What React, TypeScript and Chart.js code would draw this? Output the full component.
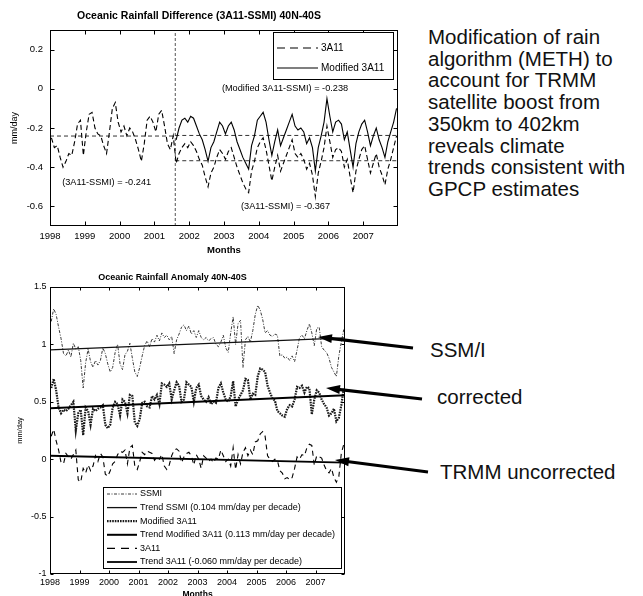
import React, { useEffect, useRef } from "react";
import { Chart, registerables } from "chart.js";

Chart.register(...registerables);

const FONT = "'Liberation Sans', Arial, Helvetica, sans-serif";
Chart.defaults.font.family = FONT;
Chart.defaults.color = "#000";

// ---------- shared axis data ----------
const START_YEAR = 1998;
const END_YEAR = 2008;
const BOOST_YEAR = 2001.6;
const YEAR_TICKS = [1998, 1999, 2000, 2001, 2002, 2003, 2004, 2005, 2006, 2007];

// ---------- top chart: Oceanic Rainfall Difference (3A11-SSMI) ----------
const DIFF_Y_TICKS = [-0.6, -0.4, -0.2, 0, 0.2];
const DIFF_Y_RANGE = [-0.7, 0.3];

const diff3A11 = [
  -0.25, -0.30, -0.29, -0.35, -0.40, -0.37, -0.33, -0.34, -0.27, -0.18, -0.16, -0.34,
  -0.22, -0.13, -0.12, -0.20, -0.23, -0.24, -0.29, -0.33, -0.22, -0.10, -0.07, -0.17,
  -0.22, -0.19, -0.24, -0.20, -0.22, -0.26, -0.31, -0.37, -0.28, -0.16, -0.14, -0.17,
  -0.22, -0.13, -0.11, -0.19, -0.28, -0.31, -0.24, -0.38, -0.33, -0.30, -0.28, -0.30,
  -0.27, -0.29, -0.32, -0.36, -0.39, -0.45, -0.50, -0.43, -0.40, -0.35, -0.31, -0.33,
  -0.36, -0.32, -0.30, -0.35, -0.40, -0.44, -0.48, -0.51, -0.53, -0.42, -0.37, -0.30,
  -0.27, -0.25, -0.31, -0.39, -0.47, -0.40, -0.34, -0.42, -0.38, -0.34, -0.30, -0.26,
  -0.33, -0.35, -0.33, -0.36, -0.41, -0.38, -0.44, -0.55, -0.43, -0.37, -0.30, -0.19,
  -0.27, -0.35, -0.31, -0.30, -0.32, -0.40, -0.36, -0.45, -0.53, -0.42, -0.36, -0.31,
  -0.29, -0.36, -0.43, -0.38, -0.33, -0.40, -0.44, -0.49, -0.41, -0.36, -0.30, -0.24,
];

const MODIFIED_START_MONTH = 43; // Aug 2001
const diffModified = [
  -0.26, -0.20, -0.16, -0.15, -0.17,
  -0.14, -0.15, -0.19, -0.23, -0.26, -0.31, -0.37, -0.30, -0.27, -0.22, -0.17, -0.19,
  -0.23, -0.19, -0.17, -0.21, -0.27, -0.31, -0.35, -0.38, -0.41, -0.29, -0.24, -0.16,
  -0.14, -0.12, -0.17, -0.26, -0.34, -0.27, -0.21, -0.29, -0.25, -0.21, -0.17, -0.13,
  -0.19, -0.21, -0.20, -0.22, -0.28, -0.25, -0.30, -0.42, -0.30, -0.24, -0.17, -0.05,
  -0.14, -0.22, -0.17, -0.16, -0.18, -0.26, -0.22, -0.31, -0.40, -0.28, -0.22, -0.18,
  -0.16, -0.22, -0.29, -0.24, -0.20, -0.26, -0.30, -0.35, -0.27, -0.22, -0.17, -0.10,
];

const meanBefore3A11 = -0.241;
const meanAfterModified = -0.238;
const meanAfter3A11 = -0.367;

// ---------- bottom chart: Oceanic Rainfall Anomaly ----------
const ANOM_Y_TICKS = [-1, -0.5, 0, 0.5, 1, 1.5];
const ANOM_Y_RANGE = [-1, 1.5];

const anomSSMI = [
  1.20, 1.31, 1.26, 1.15, 1.05, 0.92, 0.90, 0.95, 0.89, 1.01, 0.96, 0.98,
  0.86, 0.62, 0.84, 0.96, 0.85, 0.80, 0.86, 0.82, 0.86, 0.97, 0.92, 0.83,
  0.76, 0.80, 0.93, 1.00, 0.83, 0.78, 0.91, 0.94, 1.01, 0.88, 0.76, 0.72,
  0.80, 0.90, 0.99, 1.03, 0.98, 1.05, 1.02, 1.08, 1.03, 1.10, 1.06, 1.08,
  1.04, 1.07, 0.92, 1.04, 1.09, 1.15, 1.17, 1.12, 1.16, 1.09, 1.12, 1.06,
  1.12, 1.06, 1.04, 1.06, 1.03, 1.05, 1.06, 1.00, 0.98, 1.02, 1.08, 0.97,
  0.93, 1.10, 1.24, 1.00, 1.18, 1.21, 0.80, 1.04, 1.07, 1.02, 1.12, 1.26,
  1.34, 1.30, 1.22, 1.10, 1.12, 1.08, 1.07, 1.09, 1.08, 0.90, 0.91, 0.88,
  0.89, 0.86, 0.90, 0.85, 0.95, 1.06, 1.08, 1.05, 1.12, 1.18, 1.10, 0.99,
  1.14, 1.15, 0.98, 0.95, 0.93, 0.88, 0.80, 0.76, 0.72, 0.90, 1.02, 1.13,
];

const anomModified = [
  0.62, 0.70, 0.60, 0.45, 0.40, 0.43, 0.42, 0.44, 0.47, 0.50, 0.25, 0.40,
  0.43, 0.21, 0.45, 0.42, 0.30, 0.44, 0.42, 0.44, 0.45, 0.47, 0.30, 0.27,
  0.30, 0.45, 0.50, 0.48, 0.38, 0.52, 0.50, 0.40, 0.56, 0.55, 0.32, 0.29,
  0.35, 0.49, 0.50, 0.46, 0.45, 0.55, 0.52, 0.56, 0.48, 0.66, 0.65, 0.63,
  0.66, 0.52, 0.60, 0.67, 0.64, 0.50, 0.52, 0.67, 0.65, 0.63, 0.50, 0.62,
  0.65, 0.55, 0.52, 0.50, 0.54, 0.48, 0.50, 0.49, 0.62, 0.66, 0.58, 0.52,
  0.50, 0.55, 0.68, 0.46, 0.52, 0.56, 0.60, 0.70, 0.69, 0.52, 0.57, 0.56,
  0.72, 0.79, 0.78, 0.76, 0.64, 0.58, 0.53, 0.51, 0.42, 0.40, 0.38, 0.37,
  0.44, 0.47, 0.46, 0.52, 0.63, 0.62, 0.64, 0.58, 0.63, 0.62, 0.39, 0.52,
  0.60, 0.58, 0.52, 0.48, 0.45, 0.38, 0.40, 0.44, 0.33, 0.36, 0.47, 0.62,
];

const anom3A11 = [
  0.20, 0.26, 0.16, 0.08, -0.03, -0.04, 0.05, 0.02, 0.00, 0.04, 0.08, -0.18,
  -0.20, -0.08, -0.12, -0.05, -0.10, -0.06, 0.03, -0.02, 0.05, 0.02, -0.13, -0.15,
  -0.10, -0.04, -0.02, 0.04, 0.07, 0.06, 0.08, -0.04, 0.10, 0.12, -0.06, -0.09,
  -0.02, 0.06, 0.04, 0.07, 0.06, 0.05, -0.01, 0.02, 0.00, 0.04, -0.06, -0.09,
  -0.05, 0.03, 0.08, 0.09, 0.07, -0.03, 0.02, 0.05, 0.06, 0.03, -0.05, 0.04,
  0.00, -0.08, 0.03, 0.01, -0.02, 0.00, -0.03, 0.01, 0.00, 0.08, 0.03, -0.02,
  0.00, -0.06, 0.10, -0.09, 0.04, -0.04, 0.06, 0.10, 0.03, 0.08, 0.04, 0.15,
  0.16, 0.22, 0.24, 0.20, 0.03, 0.00, -0.02, 0.00, -0.01, -0.10, -0.12, -0.17,
  -0.16, -0.18, -0.16, -0.08, 0.02, 0.00, 0.04, 0.03, 0.10, 0.13, 0.12, -0.05,
  0.03, 0.02, 0.01, -0.05, -0.10, -0.12, -0.08, -0.16, -0.20, -0.15, 0.05, 0.13,
];

// trend line end values at START_YEAR and END_YEAR
const trendSSMI = [0.952, 1.056];
const trendModified = [0.443, 0.556];
const trend3A11 = [0.030, -0.030];

// ---------- helpers ----------
const monthX = (i: number) => START_YEAR + (i + 0.5) / 12;
const series = (vals: number[], offset = 0) => vals.map((y, k) => ({ x: monthX(k + offset), y }));
const seg = (x0: number, x1: number, y0: number, y1: number) => [
  { x: x0, y: y0 },
  { x: x1, y: y1 },
];

const frameTicks = {
  id: "frameTicks",
  afterDatasetsDraw(chart: any, _a: any, opts: any) {
    const { ctx, chartArea: a, scales } = chart;
    const len = opts?.len ?? 4;
    ctx.save();
    ctx.setLineDash([]);
    ctx.strokeStyle = "#000";
    ctx.lineWidth = 1;
    const L = Math.round(a.left) + 0.5;
    const R = Math.round(a.right) - 0.5;
    const T = Math.round(a.top) + 0.5;
    const B = Math.round(a.bottom) - 0.5;
    ctx.strokeRect(L, T, R - L, B - T);
    ctx.beginPath();
    scales.x.ticks.forEach((t: any) => {
      const px = Math.round(scales.x.getPixelForValue(t.value)) + 0.5;
      ctx.moveTo(px, B);
      ctx.lineTo(px, B - len);
      ctx.moveTo(px, T);
      ctx.lineTo(px, T + len);
    });
    scales.y.ticks.forEach((t: any) => {
      const py = Math.round(scales.y.getPixelForValue(t.value)) + 0.5;
      ctx.moveTo(L, py);
      ctx.lineTo(L + len, py);
      ctx.moveTo(R, py);
      ctx.lineTo(R - len, py);
    });
    ctx.stroke();
    ctx.restore();
  },
};

const boxLegend = {
  id: "boxLegend",
  afterDraw(chart: any, _a: any, opts: any) {
    if (!opts || !opts.box) return;
    const { ctx } = chart;
    const [bx, by, bw, bh] = opts.box;
    ctx.save();
    ctx.fillStyle = "#fff";
    ctx.fillRect(bx, by, bw, bh);
    ctx.strokeStyle = "#000";
    ctx.lineWidth = 1;
    ctx.setLineDash([]);
    ctx.strokeRect(bx + 0.5, by + 0.5, bw, bh);
    const items = chart.data.datasets.filter((d: any) => d.inLegend);
    items.forEach((d: any, k: number) => {
      const y = opts.firstRow + k * opts.rowGap;
      ctx.beginPath();
      ctx.setLineDash(d.legendDash || d.borderDash || []);
      ctx.strokeStyle = d.borderColor;
      ctx.lineWidth = d.borderWidth;
      ctx.moveTo(opts.sampleFrom, y);
      ctx.lineTo(opts.sampleTo, y);
      ctx.stroke();
      ctx.setLineDash([]);
      ctx.fillStyle = "#000";
      ctx.font = opts.font;
      ctx.textBaseline = "middle";
      ctx.textAlign = "left";
      ctx.fillText(d.label, opts.textX, y);
    });
    ctx.restore();
  },
};

const notes = {
  id: "notes",
  afterDatasetsDraw(chart: any, _a: any, opts: any) {
    if (!opts || !opts.items) return;
    const { ctx, scales } = chart;
    ctx.save();
    ctx.fillStyle = "#000";
    ctx.textBaseline = "middle";
    ctx.textAlign = "left";
    opts.items.forEach((it: any) => {
      ctx.font = opts.font;
      ctx.fillText(it.text, scales.x.getPixelForValue(it.x), scales.y.getPixelForValue(it.y));
    });
    ctx.restore();
  },
};

const line = (extra: any) => ({
  pointRadius: 0,
  pointHoverRadius: 0,
  tension: 0,
  fill: false,
  borderColor: "#000",
  borderWidth: 1,
  ...extra,
});

function makeScales(opt: any) {
  return {
    x: {
      type: "linear",
      min: START_YEAR,
      max: END_YEAR,
      afterBuildTicks: (s: any) => {
        s.ticks = YEAR_TICKS.map((v) => ({ value: v }));
      },
      afterFit: (s: any) => {
        s.height = opt.xHeight;
      },
      grid: { display: false, drawTicks: false },
      border: { display: false },
      ticks: {
        padding: opt.xPad,
        maxRotation: 0,
        autoSkip: false,
        color: "#000",
        font: { size: opt.tickSize, family: FONT },
        callback: (v: any) => String(v),
      },
      title: {
        display: true,
        text: "Months",
        color: "#000",
        font: { size: opt.xTitleSize, weight: "bold", family: FONT },
        padding: { top: 0, bottom: opt.xTitlePad },
      },
    },
    y: {
      type: "linear",
      min: opt.yRange[0],
      max: opt.yRange[1],
      afterBuildTicks: (s: any) => {
        s.ticks = opt.yTicks.map((v: number) => ({ value: v }));
      },
      afterFit: (s: any) => {
        s.width = opt.yWidth;
      },
      grid: { display: false, drawTicks: false },
      border: { display: false },
      ticks: {
        padding: opt.yPad,
        color: "#000",
        font: { size: opt.tickSize, family: FONT },
        callback: (v: any) => String(v),
      },
      title: {
        display: true,
        text: "mm/day",
        color: "#000",
        font: { size: opt.yTitleSize, family: FONT },
        padding: { top: opt.yTitlePad, bottom: 0 },
      },
    },
  };
}

function DiffChart() {
  const ref = useRef<HTMLCanvasElement>(null);
  useEffect(() => {
    const chart = new Chart(ref.current as HTMLCanvasElement, {
      type: "line",
      data: {
        datasets: [
          line({ label: "3A11", inLegend: true, data: series(diff3A11), borderDash: [5, 3], legendDash: [8, 5], borderWidth: 1.1 }),
          line({ label: "Modified 3A11", inLegend: true, data: series(diffModified, MODIFIED_START_MONTH), borderWidth: 1.1 }),
          line({ label: "mean before", data: seg(START_YEAR, BOOST_YEAR, meanBefore3A11, meanBefore3A11), borderDash: [4, 3], borderColor: "#333" }),
          line({ label: "mean modified", data: seg(BOOST_YEAR, END_YEAR, meanAfterModified, meanAfterModified), borderDash: [4, 3], borderColor: "#333" }),
          line({ label: "mean 3A11", data: seg(BOOST_YEAR, END_YEAR, meanAfter3A11, meanAfter3A11), borderDash: [4, 3], borderColor: "#333" }),
          line({ label: "boost", data: seg(BOOST_YEAR, BOOST_YEAR, DIFF_Y_RANGE[0], DIFF_Y_RANGE[1]), borderDash: [3, 2], borderColor: "#555" }),
        ],
      },
      options: {
        animation: false,
        responsive: false,
        maintainAspectRatio: false,
        events: [],
        layout: { padding: { left: 0, right: 7, top: 0, bottom: 0 } },
        scales: makeScales({
          xHeight: 34, xPad: 5, tickSize: 9.5, xTitleSize: 9.5, xTitlePad: 4.3,
          yRange: DIFF_Y_RANGE, yTicks: DIFF_Y_TICKS, yWidth: 50, yPad: 7, yTitleSize: 9, yTitlePad: 9.6,
        }) as any,
        plugins: {
          legend: { display: false },
          tooltip: { enabled: false },
          title: {
            display: true,
            text: "Oceanic Rainfall Difference (3A11-SSMI) 40N-40S",
            color: "#000",
            font: { size: 10.5, weight: "bold", family: FONT },
            padding: { top: 9.7, bottom: 7.7 },
          },
          frameTicks: { len: 4 },
          boxLegend: {
            box: [273, 32, 120, 47],
            firstRow: 48,
            rowGap: 20,
            sampleFrom: 277,
            sampleTo: 318,
            textX: 321,
            font: `10px ${FONT}`,
          },
          notes: {
            font: `9.2px ${FONT}`,
            items: [
              { text: "(Modified 3A11-SSMI) = -0.238", x: 2002.94, y: 0.0 },
              { text: "(3A11-SSMI) = -0.241", x: 1998.35, y: -0.476 },
              { text: "(3A11-SSMI) = -0.367", x: 2003.49, y: -0.6 },
            ],
          },
        } as any,
      },
      plugins: [frameTicks, notes, boxLegend],
    } as any);
    return () => chart.destroy();
  }, []);
  return (
    <canvas
      ref={ref}
      width={405}
      height={260}
      style={{ position: "absolute", left: 0, top: 0, width: 405, height: 260 }}
    />
  );
}

function AnomChart() {
  const ref = useRef<HTMLCanvasElement>(null);
  useEffect(() => {
    const chart = new Chart(ref.current as HTMLCanvasElement, {
      type: "line",
      data: {
        datasets: [
          line({ label: "SSMI", inLegend: true, order: 2, data: series(anomSSMI), borderColor: "#3a3a3a", borderWidth: 1, borderDash: [3, 1.5, 1, 1.5] }),
          line({ label: "Trend SSMI (0.104 mm/day per decade)", inLegend: true, order: 0, data: seg(START_YEAR, END_YEAR, trendSSMI[0], trendSSMI[1]), borderWidth: 1.3, borderColor: "#111" }),
          line({ label: "Modified 3A11", inLegend: true, order: 1, data: series(anomModified), borderColor: "#1a1a1a", borderWidth: 2.2, borderDash: [1.6, 1] }),
          line({ label: "Trend Modified 3A11 (0.113 mm/day per decade)", inLegend: true, order: 0, data: seg(START_YEAR, END_YEAR, trendModified[0], trendModified[1]), borderWidth: 2 }),
          line({ label: "3A11", inLegend: true, order: 2, data: series(anom3A11), borderWidth: 1.1, borderDash: [5, 4], legendDash: [8, 6] }),
          line({ label: "Trend 3A11 (-0.060 mm/day per decade)", inLegend: true, order: 0, data: seg(START_YEAR, END_YEAR, trend3A11[0], trend3A11[1]), borderWidth: 1.8 }),
        ],
      },
      options: {
        animation: false,
        responsive: false,
        maintainAspectRatio: false,
        events: [],
        layout: { padding: { left: 0, right: 15, top: 0, bottom: 0 } },
        scales: makeScales({
          xHeight: 33, xPad: 3.6, tickSize: 9, xTitleSize: 8.5, xTitlePad: 6.9,
          yRange: ANOM_Y_RANGE, yTicks: ANOM_Y_TICKS, yWidth: 50, yPad: 3.5, yTitleSize: 7.5, yTitlePad: 15.5,
        }) as any,
        plugins: {
          legend: { display: false },
          tooltip: { enabled: false },
          title: {
            display: true,
            text: "Oceanic Rainfall Anomaly 40N-40S",
            color: "#000",
            font: { size: 9, weight: "bold", family: FONT },
            padding: { top: 10.6, bottom: 3.6 },
          },
          frameTicks: { len: 3 },
          boxLegend: {
            box: [103, 225, 238, 81],
            firstRow: 232,
            rowGap: 13.6,
            sampleFrom: 107,
            sampleTo: 137,
            textX: 140,
            font: `9px ${FONT}`,
          },
        } as any,
      },
      plugins: [frameTicks, boxLegend],
    } as any);
    return () => chart.destroy();
  }, []);
  return (
    <canvas
      ref={ref}
      width={360}
      height={345}
      style={{ position: "absolute", left: 0, top: 262, width: 360, height: 345 }}
    />
  );
}

const ARROWS = [
  { from: [413, 348], to: [318, 337] },
  { from: [422, 399], to: [326, 388] },
  { from: [428, 472], to: [335, 460] },
];

function Arrow({ from, to }: { from: number[]; to: number[] }) {
  const dx = to[0] - from[0];
  const dy = to[1] - from[1];
  const d = Math.hypot(dx, dy);
  const ux = dx / d;
  const uy = dy / d;
  const headLen = 14;
  const headHalf = 4.5;
  const bx = to[0] - ux * headLen;
  const by = to[1] - uy * headLen;
  const nx = -uy;
  const ny = ux;
  const pts = `${to[0]},${to[1]} ${bx + nx * headHalf},${by + ny * headHalf} ${bx - nx * headHalf},${by - ny * headHalf}`;
  return (
    <g>
      <line x1={from[0]} y1={from[1]} x2={bx + ux * 2} y2={by + uy * 2} stroke="#000" strokeWidth={3.2} />
      <polygon points={pts} fill="#000" />
    </g>
  );
}

const DESCRIPTION = [
  "Modification of rain",
  "algorithm (METH) to",
  "account for TRMM",
  "satellite boost from",
  "350km to 402km",
  "reveals climate",
  "trends consistent with",
  "GPCP estimates",
];

const SIDE_LABELS = [
  { text: "SSM/I", left: 430, top: 340 },
  { text: "corrected", left: 437, top: 387 },
  { text: "TRMM uncorrected", left: 440, top: 462 },
];

export default function App() {
  return (
    <div
      style={{
        position: "absolute",
        left: 0,
        top: 0,
        width: 643,
        height: 596,
        overflow: "hidden",
        background: "#fff",
        fontFamily: FONT,
      }}
    >
      <DiffChart />
      <AnomChart />
      <div
        style={{
          position: "absolute",
          left: 428,
          top: 26,
          fontSize: 20.5,
          lineHeight: "21.7px",
          color: "#111",
          whiteSpace: "nowrap",
        }}
      >
        {DESCRIPTION.map((t, i) => (
          <div key={i}>{t}</div>
        ))}
      </div>
      {SIDE_LABELS.map((l, i) => (
        <div
          key={i}
          style={{
            position: "absolute",
            left: l.left,
            top: l.top,
            fontSize: 20.5,
            lineHeight: "20px",
            color: "#111",
            whiteSpace: "nowrap",
          }}
        >
          {l.text}
        </div>
      ))}
      <svg
        width={643}
        height={596}
        style={{ position: "absolute", left: 0, top: 0, pointerEvents: "none" }}
      >
        {ARROWS.map((a, i) => (
          <Arrow key={i} from={a.from} to={a.to} />
        ))}
      </svg>
    </div>
  );
}
